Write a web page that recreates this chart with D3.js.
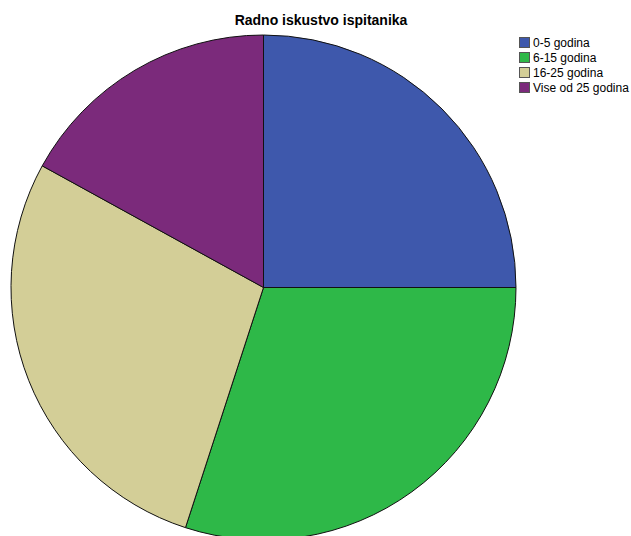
<!DOCTYPE html>
<html><head><meta charset="utf-8">
<script src="https://cdn.jsdelivr.net/npm/d3@7"></script>
<style>html,body{margin:0;padding:0;background:#fff;overflow:hidden}</style>
</head><body>
<svg id="chart" width="631" height="536"></svg>
<script>
const title = "Radno iskustvo ispitanika";
const categories = ["0-5 godina", "6-15 godina", "16-25 godina", "Vise od 25 godina"];
const values = [25, 30, 28, 17];
const colors = ["#3E58AC", "#2EB848", "#D3CE97", "#7B2A7B"];

const svg = d3.select("#chart");
const cx = 263.5, cy = 287.5, r = 252.5;

const pie = d3.pie().sort(null).value(d => d.v);
const arcs = pie(categories.map((c, i) => ({c, v: values[i]})));
const arc = d3.arc().innerRadius(0).outerRadius(r);
const color = d3.scaleOrdinal().domain(categories).range(colors);

const g = svg.append("g").attr("transform", `translate(${cx},${cy})`);
g.selectAll("path").data(arcs).join("path")
  .attr("d", arc)
  .attr("fill", d => color(d.data.c))
  .attr("stroke", "#111")
  .attr("stroke-width", 1)
  .attr("stroke-linejoin", "round");

svg.append("text")
  .attr("x", 321).attr("y", 25)
  .attr("text-anchor", "middle")
  .attr("font-family", "Liberation Sans, Arial, sans-serif")
  .attr("font-weight", "bold")
  .attr("font-size", 14)
  .attr("fill", "#000")
  .text(title);

const lg = svg.append("g").attr("transform", "translate(519,37)");
const items = lg.selectAll("g").data(categories).join("g")
  .attr("transform", (d, i) => `translate(0,${i * 15})`);
items.append("rect")
  .attr("width", 10).attr("height", 10)
  .attr("x", 0.5).attr("y", 0.5)
  .attr("fill", d => color(d))
  .attr("stroke", "#555").attr("stroke-width", 1);
items.append("text")
  .attr("x", 14).attr("y", 9.5)
  .attr("font-family", "Liberation Sans, Arial, sans-serif")
  .attr("font-size", 12)
  .attr("fill", "#000")
  .text(d => d);
</script>
</body></html>
